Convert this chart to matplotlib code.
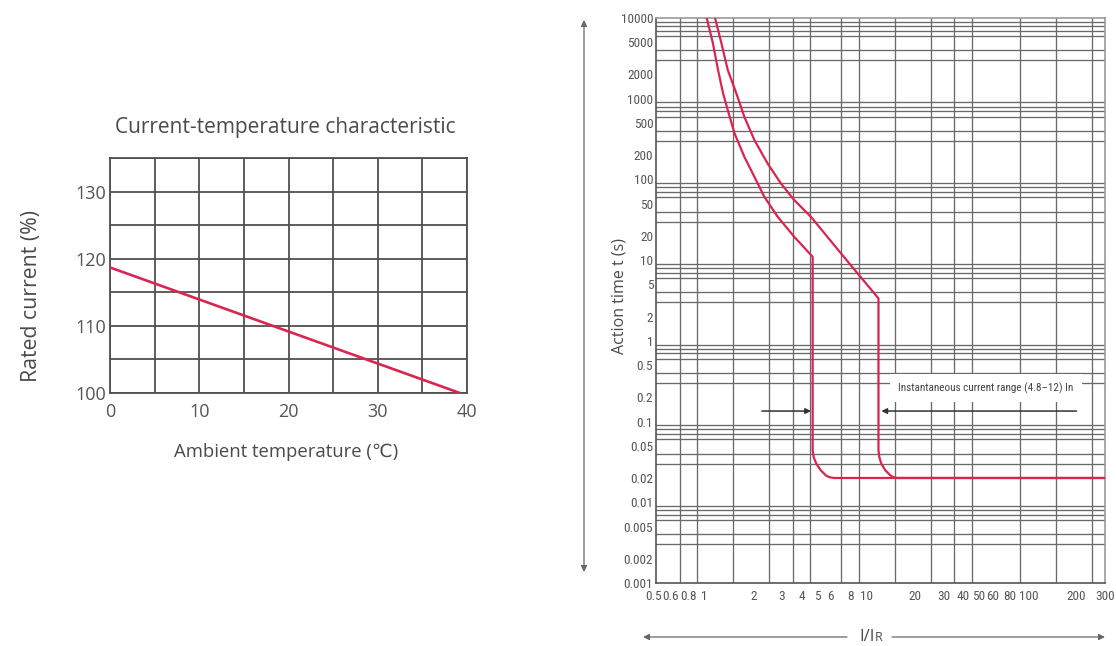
import matplotlib
matplotlib.use("Agg")
import matplotlib.pyplot as plt
import matplotlib.font_manager as fm
import matplotlib.transforms as mtransforms
from matplotlib.ticker import FixedLocator, FixedFormatter, NullFormatter, MultipleLocator

# ---------------- data ----------------
# Left chart: current-temperature characteristic
temp = [0, 39.2]
rated = [118.7, 100.0]
temp_ticks = [0, 10, 20, 30, 40]
rated_ticks = [100, 110, 120, 130]

# Right chart: time-current curves (I/IR, t in s)
lower_I = [1.03, 1.125, 1.21, 1.30, 1.39, 1.53, 1.76, 2.03, 2.34, 2.83, 3.58, 4.66,
           4.66, 4.73, 4.91, 5.22, 5.63, 5.9, 6.3, 300]
lower_t = [10000, 4860, 2270, 1167, 724, 373, 191, 108, 61, 34.5, 19.5, 11.0,
           0.044, 0.036, 0.030, 0.025, 0.0215, 0.0205, 0.020, 0.020]
upper_I = [1.16, 1.27, 1.39, 1.57, 1.76, 2.03, 2.45, 2.96, 3.58, 4.54, 5.74, 7.26, 9.21, 11.9,
           11.9, 12.05, 12.4, 13.1, 14.1, 14.7, 15.5, 300]
upper_t = [10000, 4860, 2270, 1167, 598, 308, 158, 89.5, 55.6, 34.5, 19.5, 11.0, 6.2, 3.36,
           0.044, 0.036, 0.030, 0.025, 0.0215, 0.0205, 0.020, 0.020]

x_ticks = [0.5, 0.6, 0.8, 1, 2, 3, 4, 5, 6, 8, 10, 20, 30, 40, 50, 60, 80, 100, 200, 300]
x_labels = ["0.5", "0.6", "0.8", "1", "2", "3", "4", "5", "6", "8", "10", "20", "30", "40",
            "50", "60", "80", "100", "200", "300"]
x_grid = [0.5, 0.6, 0.7, 0.8, 0.9, 1, 1.5, 2, 2.5, 3, 3.5, 4, 4.5, 5, 6, 7, 8, 9, 10,
          15, 20, 25, 30, 35, 40, 45, 50, 60, 80, 90, 100, 150, 200, 250, 300]
y_ticks = [0.001, 0.002, 0.005, 0.01, 0.02, 0.05, 0.1, 0.2, 0.5, 1, 2, 5, 10, 20, 50,
           100, 200, 500, 1000, 2000, 5000, 10000]
y_labels = ["0.001", "0.002", "0.005", "0.01", "0.02", "0.05", "0.1", "0.2", "0.5", "1", "2",
            "5", "10", "20", "50", "100", "200", "500", "1000", "2000", "5000", "10000"]
y_grid = [m * 10.0 ** e for e in range(-3, 4) for m in range(1, 10)] + [10000]

annot_text = "Instantaneous current range (4.8\u201312) In"
arrow_t = 0.135
left_arrow_I = (2.26, 4.55)
right_arrow_I = (200, 12.4)

# ---------------- style ----------------
RED = "#d9254f"
GRID_L = "#505050"
GRID_R = "#6a6a6a"
TXT = "#4a4a4a"

names = {f.name for f in fm.fontManager.ttflist}
MAIN = ["Open Sans", "DejaVu Sans"]
NARROW_NAME = None
for cand in ["Liberation Sans Narrow", "Roboto Condensed", "Open Sans Condensed"]:
    if cand in names:
        NARROW_NAME = cand
        break
if NARROW_NAME:
    NARROW = [NARROW_NAME, "DejaVu Sans"]
    TICK_FS, ANN_FS = 9.5, 8
else:
    NARROW = ["Roboto", "DejaVu Sans"]
    TICK_FS, ANN_FS = 8, 7.5

W, H = 1116, 646
fig = plt.figure(figsize=(W / 100, H / 100), dpi=100)


def fx(px):
    return px / W


def fy(py):
    return 1 - py / H


# ---------------- left chart ----------------
ax1 = fig.add_axes([fx(110), fy(393), fx(467) - fx(110), fy(158) - fy(393)])
ax1.set_xlim(0, 40)
ax1.set_ylim(100, 135)
ax1.set_xticks(temp_ticks)
ax1.set_yticks(rated_ticks)
ax1.xaxis.set_minor_locator(MultipleLocator(5))
ax1.yaxis.set_minor_locator(MultipleLocator(5))
ax1.grid(True, which="both", color=GRID_L, lw=1.3)
ax1.set_axisbelow(True)
for s in ax1.spines.values():
    s.set_color(GRID_L)
    s.set_linewidth(1.3)
ax1.tick_params(which="both", length=0)
ax1.tick_params(axis="x", pad=7)
ax1.tick_params(axis="y", pad=3)
for lab in ax1.get_xticklabels() + ax1.get_yticklabels():
    lab.set_fontfamily(MAIN)
    lab.set_fontsize(13)
    lab.set_color("#555555")
ax1.plot(temp, rated, color=RED, lw=1.9, solid_capstyle="butt", zorder=3)

fig.text(fx(285), fy(127), "Current-temperature characteristic", ha="center", va="center",
         fontsize=15, color=TXT, family=MAIN)
fig.text(fx(286), fy(452), "Ambient temperature (\u2103)", ha="center", va="center",
         fontsize=13.3, color=TXT, family=MAIN)
fig.text(fx(32), fy(296), "Rated current (%)", ha="center", va="center", rotation=90,
         fontsize=15.3, color=TXT, family=MAIN)

# ---------------- right chart ----------------
ax2 = fig.add_axes([fx(656), fy(583), fx(1105) - fx(656), fy(18) - fy(583)])
ax2.set_xscale("log")
ax2.set_yscale("log")
ax2.set_xlim(0.5, 300)
ax2.set_ylim(0.001, 10000)
ax2.xaxis.set_major_locator(FixedLocator(x_ticks))
ax2.xaxis.set_major_formatter(FixedFormatter(x_labels))
ax2.yaxis.set_major_locator(FixedLocator(y_ticks))
ax2.yaxis.set_major_formatter(FixedFormatter(y_labels))
ax2.xaxis.set_minor_locator(FixedLocator(x_grid))
ax2.yaxis.set_minor_locator(FixedLocator(y_grid))
ax2.xaxis.set_minor_formatter(NullFormatter())
ax2.yaxis.set_minor_formatter(NullFormatter())
ax2.grid(False, which="major")
ax2.grid(True, which="minor", color=GRID_R, lw=0.95)
ax2.set_axisbelow(True)
ax2.tick_params(which="both", length=0)
ax2.tick_params(axis="x", pad=5)
ax2.tick_params(axis="y", pad=2)
for lab in ax2.get_xticklabels() + ax2.get_yticklabels():
    lab.set_fontsize(TICK_FS)
    lab.set_color("#555555")
    lab.set_fontfamily(NARROW)
for k, s in ax2.spines.items():
    s.set_color("#555555" if k in ("left", "bottom") else "#9a9a9a")
    s.set_linewidth(1.2)

# nudge crowded tick labels apart (as in the reference, they nearly touch)
nudges = {"0.5": -2, "0.6": 2, "50": -1, "60": 1, "80": -2, "100": 1}
for tick, lbl in zip(ax2.xaxis.get_major_ticks(), x_labels):
    if lbl in nudges:
        off = mtransforms.ScaledTranslation(nudges[lbl] / 100, 0, fig.dpi_scale_trans)
        tick.label1.set_transform(tick.label1.get_transform() + off)

ax2.plot(lower_I, lower_t, color=RED, lw=1.6, zorder=3)
ax2.plot(upper_I, upper_t, color=RED, lw=1.6, zorder=3)

# annotation box
ax2.text(54.7, 0.26, annot_text, ha="center", va="center", fontsize=ANN_FS, color="#444444",
         family=NARROW, bbox=dict(boxstyle="square,pad=0.75", fc="white", ec="none"), zorder=4)
ap = dict(arrowstyle="-|>", color="#333333", lw=1.1, mutation_scale=8, shrinkA=0, shrinkB=0)
ax2.annotate("", xy=(right_arrow_I[1], arrow_t), xytext=(right_arrow_I[0], arrow_t),
             arrowprops=ap, zorder=5)
ax2.annotate("", xy=(left_arrow_I[1], arrow_t), xytext=(left_arrow_I[0], arrow_t),
             arrowprops=ap, zorder=5)

# axis labels & big arrows
fig.text(fx(620), fy(296), "Action time t (s)", ha="center", va="center", rotation=90,
         fontsize=11.5, color=TXT, family=MAIN)
big = dict(arrowstyle="-|>", color="#666666", lw=0.9, mutation_scale=9, shrinkA=0, shrinkB=0)
big2 = dict(arrowstyle="<|-|>", color="#666666", lw=0.9, mutation_scale=9, shrinkA=0, shrinkB=0)
ax2.annotate("", xy=(fx(584), fy(20)), xytext=(fx(584), fy(572)), xycoords="figure fraction",
             textcoords="figure fraction", arrowprops=big2, annotation_clip=False)
ax2.annotate("", xy=(fx(643), fy(637)), xytext=(fx(847), fy(637)), xycoords="figure fraction",
             textcoords="figure fraction", arrowprops=big, annotation_clip=False)
ax2.annotate("", xy=(fx(1105), fy(637)), xytext=(fx(892), fy(637)), xycoords="figure fraction",
             textcoords="figure fraction", arrowprops=big, annotation_clip=False)
fig.text(fx(875), fy(641), "I/I", ha="right", va="baseline", fontsize=12, color=TXT, family=MAIN)
fig.text(fx(875), fy(641), "R", ha="left", va="baseline", fontsize=9, color=TXT, family=MAIN)

fig.savefig("out.png", dpi=100, facecolor="white")
